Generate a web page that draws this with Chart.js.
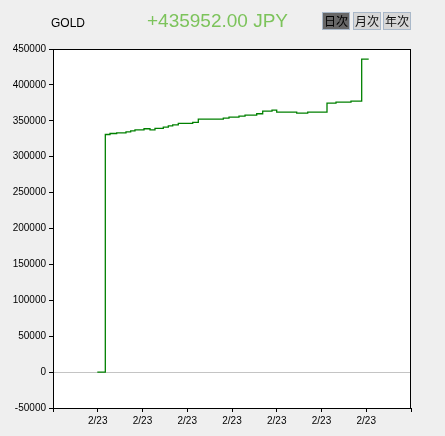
<!DOCTYPE html>
<html>
<head>
<meta charset="utf-8">
<script src="https://cdn.jsdelivr.net/npm/chart.js@4"></script>
<style>
  body { margin: 0; background: #efefef; font-family: "Liberation Sans", Arial, sans-serif; }
  #wrap { position: relative; width: 445px; height: 436px; overflow: hidden; }
  #chartBox { position: absolute; left: 0; top: 0; width: 445px; height: 436px; }
  .title { position: absolute; left: 51px; top: 16px; font-size: 12px; color: #000; }
  .amount { position: absolute; left: 147px; top: 10px; font-size: 19px; color: #7cc35b; }
  .btn { position: absolute; top: 12px; width: 26px; height: 16px; border: 1px solid #a9b8c9;
         background: #d7d7d7; font-family: "Noto Sans CJK JP", sans-serif; font-size: 12px;
         line-height: 16px; text-align: center; color: #111; }
  .btn.on { background: #676767; color: #000; }
</style>
</head>
<body>
<div id="wrap">
  <div id="chartBox"><canvas id="profitChart" width="445" height="436"></canvas></div>
  <div class="title">GOLD</div>
  <div class="amount">+435952.00 JPY</div>
  <div class="btn on" style="left:322px">日次</div>
  <div class="btn" style="left:353px">月次</div>
  <div class="btn" style="left:383px">年次</div>
</div>
<script>
    // trade times (axis units) and cumulative profit, stepped
    const times = [0.99, 1.169, 1.274, 1.423, 1.631, 1.736, 1.832, 2.034, 2.168, 2.279, 2.465, 2.577,
        2.675, 2.800, 3.122, 3.247, 3.806, 3.933, 4.156, 4.291, 4.552, 4.686, 4.894, 4.999, 5.446,
        5.692, 6.123, 6.324, 6.659, 6.898, 7.055];
    const profits = [0, 330900, 332300, 333300, 334700, 336000, 337500, 338900, 337500, 339400, 341200, 343000,
        344400, 346400, 347800, 352400, 353800, 355200, 356500, 357900, 359800, 363500, 364900, 362100, 360700,
        362100, 374700, 376000, 377400, 435952, 435952];
    const dayLabels = ['', '2/23', '2/23', '2/23', '2/23', '2/23', '2/23', '2/23', ''];

    const frame = {
        id: 'frame',
        beforeDraw(chart) {
            const a = chart.chartArea;
            const ctx = chart.ctx;
            ctx.save();
            ctx.fillStyle = '#fff';
            ctx.fillRect(a.left, a.top, a.right - a.left, a.bottom - a.top);
            ctx.restore();
        },
        afterDraw(chart) {
            const a = chart.chartArea;
            const ctx = chart.ctx;
            ctx.save();
            ctx.strokeStyle = '#000';
            ctx.lineWidth = 1;
            ctx.strokeRect(Math.round(a.left) + 0.5, Math.round(a.top) + 0.5,
                Math.round(a.right - a.left) - 1, Math.round(a.bottom - a.top));
            ctx.restore();
        }
    };

    function createChart() {
        const ctx = document.getElementById('profitChart').getContext('2d');
        new Chart(ctx, {
            type: 'line',
            data: {
                datasets: [{
                    data: times.map((t, i) => ({ x: t, y: profits[i] })),
                    borderColor: '#008000',
                    borderWidth: 1.3,
                    stepped: true,
                    pointRadius: 0,
                    fill: false
                }]
            },
            options: {
                responsive: false,
                animation: false,
                layout: { padding: { top: 49, right: 34, left: 0, bottom: 0 } },
                plugins: { legend: { display: false }, tooltip: { enabled: false } },
                scales: {
                    x: {
                        type: 'linear',
                        min: 0,
                        max: 8,
                        afterFit: s => { s.height = 28; },
                        border: { display: true, color: '#000' },
                        grid: { drawOnChartArea: false, tickColor: '#000', tickLength: 4 },
                        ticks: {
                            stepSize: 1,
                            autoSkip: false,
                            maxRotation: 0,
                            padding: 3,
                            color: '#000',
                            font: { family: 'Liberation Sans', size: 10 },
                            callback: v => dayLabels[v]
                        }
                    },
                    y: {
                        min: -50000,
                        max: 450000,
                        afterFit: s => { s.width = 53; },
                        border: { display: true, color: '#000' },
                        grid: {
                            color: c => c.tick && c.tick.value === 0 ? '#c4c4c4' : 'rgba(0,0,0,0)',
                            tickColor: '#000',
                            tickLength: 4
                        },
                        ticks: {
                            stepSize: 50000,
                            padding: 3,
                            color: '#000',
                            font: { family: 'Liberation Sans', size: 10 },
                            callback: v => String(v)
                        }
                    }
                }
            },
            plugins: [frame]
        });
    }
    window.onload = createChart;
</script>
</body>
</html>
